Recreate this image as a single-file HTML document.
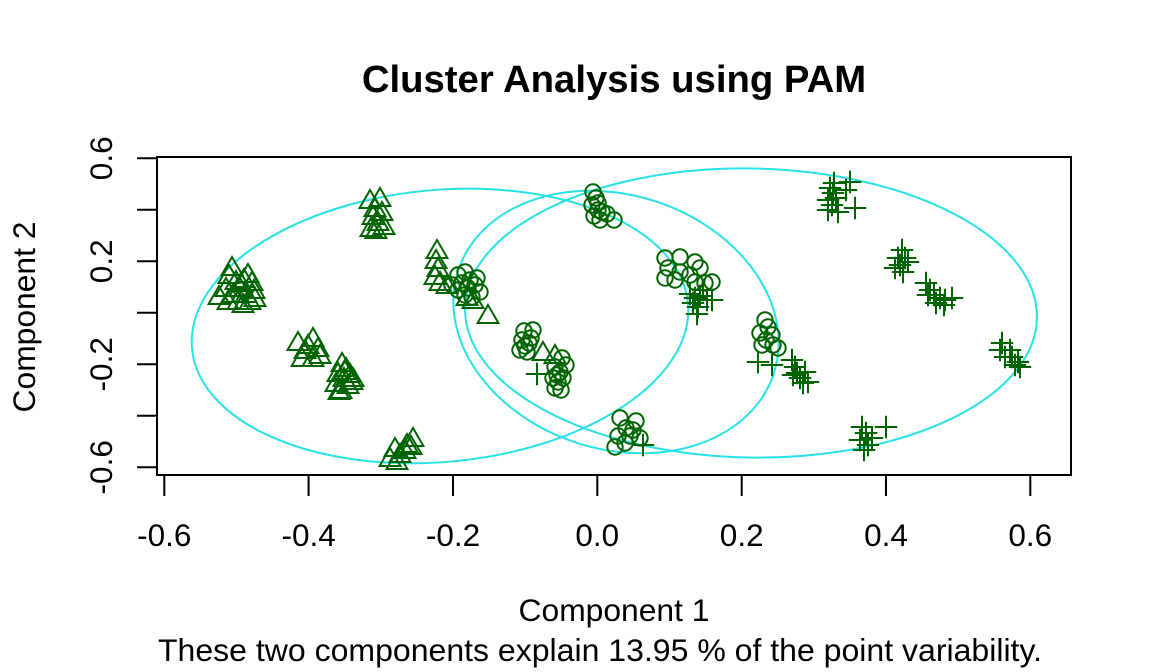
<!DOCTYPE html>
<html>
<head>
<meta charset="utf-8">
<style>
html,body{margin:0;padding:0;background:#fff;}
svg{display:block;}
text{font-family:"Liberation Sans",Arial,sans-serif;fill:#000;}
</style>
</head>
<body>
<svg width="1152" height="672" viewBox="0 0 1152 672" xmlns="http://www.w3.org/2000/svg">
<defs>
<path id="t" d="M0,-12L10.4,6L-10.4,6Z"/>
<path id="p" d="M-11.2,0H11.2M0,-11.2V11.2"/>
<circle id="o" r="7.7"/>
</defs>
<rect width="1152" height="672" fill="#fff"/>

<!-- title -->
<text x="614" y="92" font-size="38.3" font-weight="bold" text-anchor="middle">Cluster Analysis using PAM</text>

<!-- ellipses -->
<g fill="none" stroke="#28E2E5" stroke-width="2">
<ellipse cx="440" cy="326" rx="249" ry="136" transform="rotate(-5.2 440 326)"/>
<ellipse cx="616" cy="322" rx="166" ry="127" transform="rotate(18 616 322)"/>
<ellipse cx="751" cy="313" rx="286" ry="144.5" transform="rotate(1 751 313)"/>
</g>

<!-- points -->
<g fill="none" stroke="#006400" stroke-width="2">
<!-- triangles -->
<use href="#t" x="232" y="269"/><use href="#t" x="229" y="277"/><use href="#t" x="236" y="283"/><use href="#t" x="244" y="281"/>
<use href="#t" x="248" y="276"/><use href="#t" x="252" y="284"/><use href="#t" x="240" y="290"/><use href="#t" x="226" y="290"/>
<use href="#t" x="219" y="298"/><use href="#t" x="233" y="296"/><use href="#t" x="246" y="296"/><use href="#t" x="254" y="292"/>
<use href="#t" x="238" y="303"/><use href="#t" x="250" y="303"/><use href="#t" x="243" y="306"/><use href="#t" x="228" y="303"/>
<use href="#t" x="255" y="300"/><use href="#t" x="241" y="285"/>

<use href="#t" x="298" y="344"/><use href="#t" x="313" y="340"/><use href="#t" x="305" y="352"/><use href="#t" x="318" y="350"/>
<use href="#t" x="302" y="360"/><use href="#t" x="313" y="360"/><use href="#t" x="320" y="357"/><use href="#t" x="308" y="347"/>

<use href="#t" x="342" y="365"/><use href="#t" x="346" y="370"/><use href="#t" x="338" y="375"/><use href="#t" x="350" y="376"/>
<use href="#t" x="344" y="380"/><use href="#t" x="336" y="385"/><use href="#t" x="348" y="387"/><use href="#t" x="341" y="392"/>
<use href="#t" x="352" y="383"/><use href="#t" x="339" y="393"/><use href="#t" x="345" y="373"/><use href="#t" x="353" y="380"/>

<use href="#t" x="370" y="202"/><use href="#t" x="380" y="200"/><use href="#t" x="375" y="210"/><use href="#t" x="382" y="214"/>
<use href="#t" x="373" y="218"/><use href="#t" x="378" y="224"/><use href="#t" x="371" y="230"/><use href="#t" x="384" y="228"/>
<use href="#t" x="376" y="232"/>

<use href="#t" x="437" y="252"/><use href="#t" x="436" y="262"/><use href="#t" x="438" y="270"/><use href="#t" x="435" y="278"/>
<use href="#t" x="440" y="284"/><use href="#t" x="447" y="287"/><use href="#t" x="473" y="302"/><use href="#t" x="467" y="299"/>
<use href="#t" x="488" y="317"/>
<use href="#t" x="543" y="354"/><use href="#t" x="555" y="357"/>

<use href="#t" x="395" y="450"/><use href="#t" x="390" y="460"/><use href="#t" x="400" y="456"/><use href="#t" x="407" y="446"/>
<use href="#t" x="413" y="440"/><use href="#t" x="405" y="452"/><use href="#t" x="397" y="463"/><use href="#t" x="411" y="448"/>

<!-- circles -->
<use href="#o" x="458" y="275"/><use href="#o" x="465" y="272"/><use href="#o" x="470" y="280"/><use href="#o" x="462" y="283"/>
<use href="#o" x="468" y="288"/><use href="#o" x="475" y="285"/><use href="#o" x="480" y="292"/><use href="#o" x="465" y="295"/>
<use href="#o" x="472" y="297"/><use href="#o" x="458" y="290"/><use href="#o" x="477" y="278"/><use href="#o" x="452" y="285"/>

<use href="#o" x="524" y="331"/><use href="#o" x="533" y="330"/><use href="#o" x="522" y="340"/><use href="#o" x="529" y="343"/>
<use href="#o" x="520" y="350"/><use href="#o" x="527" y="352"/><use href="#o" x="531" y="338"/><use href="#o" x="525" y="346"/>

<use href="#o" x="562" y="358"/><use href="#o" x="555" y="367"/><use href="#o" x="560" y="372"/><use href="#o" x="553" y="378"/>
<use href="#o" x="558" y="382"/><use href="#o" x="563" y="378"/><use href="#o" x="555" y="388"/><use href="#o" x="561" y="390"/>
<use href="#o" x="557" y="375"/><use href="#o" x="566" y="365"/>

<use href="#o" x="593" y="192"/><use href="#o" x="596" y="198"/><use href="#o" x="592" y="205"/><use href="#o" x="598" y="210"/>
<use href="#o" x="594" y="216"/><use href="#o" x="600" y="220"/><use href="#o" x="607" y="214"/><use href="#o" x="614" y="220"/>
<use href="#o" x="598" y="203"/><use href="#o" x="602" y="212"/>

<use href="#o" x="620" y="418"/><use href="#o" x="636" y="421"/><use href="#o" x="626" y="428"/><use href="#o" x="618" y="436"/>
<use href="#o" x="630" y="436"/><use href="#o" x="640" y="438"/><use href="#o" x="615" y="447"/><use href="#o" x="625" y="443"/>
<use href="#o" x="633" y="430"/>

<use href="#o" x="665" y="258"/><use href="#o" x="680" y="257"/><use href="#o" x="668" y="268"/><use href="#o" x="695" y="262"/>
<use href="#o" x="680" y="272"/><use href="#o" x="665" y="278"/><use href="#o" x="690" y="275"/><use href="#o" x="700" y="268"/>
<use href="#o" x="695" y="282"/><use href="#o" x="705" y="283"/><use href="#o" x="712" y="282"/><use href="#o" x="675" y="280"/>

<use href="#o" x="765" y="320"/><use href="#o" x="768" y="327"/><use href="#o" x="760" y="333"/><use href="#o" x="772" y="335"/>
<use href="#o" x="766" y="340"/><use href="#o" x="778" y="348"/><use href="#o" x="762" y="345"/><use href="#o" x="773" y="345"/>

<!-- pluses -->
<use href="#p" x="537" y="374"/><use href="#p" x="643" y="445"/>

<use href="#p" x="690" y="294"/><use href="#p" x="695" y="298"/><use href="#p" x="700" y="296"/><use href="#p" x="693" y="303"/>
<use href="#p" x="698" y="307"/><use href="#p" x="712" y="300"/><use href="#p" x="697" y="314"/><use href="#p" x="707" y="300"/>
<use href="#p" x="703" y="290"/>

<use href="#p" x="758" y="362"/><use href="#p" x="772" y="365"/>
<use href="#p" x="792" y="360"/><use href="#p" x="795" y="367"/><use href="#p" x="797" y="373"/><use href="#p" x="800" y="378"/>
<use href="#p" x="803" y="383"/><use href="#p" x="793" y="375"/><use href="#p" x="808" y="382"/><use href="#p" x="805" y="372"/>

<use href="#p" x="830" y="188"/><use href="#p" x="833" y="193"/><use href="#p" x="828" y="200"/><use href="#p" x="836" y="198"/>
<use href="#p" x="832" y="205"/><use href="#p" x="828" y="210"/><use href="#p" x="838" y="212"/><use href="#p" x="850" y="182"/>
<use href="#p" x="846" y="190"/><use href="#p" x="855" y="208"/><use href="#p" x="834" y="183"/>

<use href="#p" x="902" y="250"/><use href="#p" x="898" y="258"/><use href="#p" x="905" y="258"/><use href="#p" x="900" y="265"/>
<use href="#p" x="895" y="268"/><use href="#p" x="903" y="272"/><use href="#p" x="908" y="262"/>

<use href="#p" x="926" y="283"/><use href="#p" x="930" y="290"/><use href="#p" x="934" y="295"/><use href="#p" x="940" y="298"/>
<use href="#p" x="945" y="300"/><use href="#p" x="936" y="303"/><use href="#p" x="944" y="305"/><use href="#p" x="952" y="298"/>
<use href="#p" x="928" y="295"/>

<use href="#p" x="1002" y="343"/><use href="#p" x="1000" y="350"/><use href="#p" x="1005" y="357"/><use href="#p" x="1012" y="357"/>
<use href="#p" x="1018" y="362"/><use href="#p" x="1015" y="365"/><use href="#p" x="1010" y="350"/><use href="#p" x="1020" y="367"/>

<use href="#p" x="862" y="427"/><use href="#p" x="866" y="433"/><use href="#p" x="860" y="440"/><use href="#p" x="868" y="445"/>
<use href="#p" x="864" y="450"/><use href="#p" x="872" y="438"/><use href="#p" x="886" y="427"/>
</g>

<!-- box and axes -->
<g stroke="#000" stroke-width="2" fill="none">
<rect x="157" y="157" width="914" height="318"/>
<path d="M157,158.3V467.3 M137,158.3H157 M137,209.8H157 M137,261.3H157 M137,312.8H157 M137,364.3H157 M137,415.8H157 M137,467.3H157"/>
<path d="M164.3,475H1030.3 M164.3,475V496 M308.6,475V496 M453,475V496 M597.3,475V496 M741.7,475V496 M886,475V496 M1030.3,475V496"/>
</g>

<!-- x tick labels -->
<g font-size="31.5" text-anchor="middle">
<text x="164.3" y="546">-0.6</text>
<text x="308.6" y="546">-0.4</text>
<text x="453" y="546">-0.2</text>
<text x="597.3" y="546">0.0</text>
<text x="741.7" y="546">0.2</text>
<text x="886" y="546">0.4</text>
<text x="1030.3" y="546">0.6</text>
</g>

<!-- y tick labels -->
<g font-size="31.5" text-anchor="middle">
<text transform="translate(112,158.3) rotate(-90)">0.6</text>
<text transform="translate(112,261.3) rotate(-90)">0.2</text>
<text transform="translate(112,364.3) rotate(-90)">-0.2</text>
<text transform="translate(112,467.3) rotate(-90)">-0.6</text>
</g>

<!-- axis labels -->
<text x="614" y="621" font-size="31.8" text-anchor="middle">Component 1</text>
<text x="158" y="661" font-size="31.8" text-anchor="start" textLength="884" lengthAdjust="spacingAndGlyphs">These two components explain 13.95 % of the point variability.</text>
<text transform="translate(35,317) rotate(-90)" font-size="31.8" text-anchor="middle">Component 2</text>
</svg>
</body>
</html>
